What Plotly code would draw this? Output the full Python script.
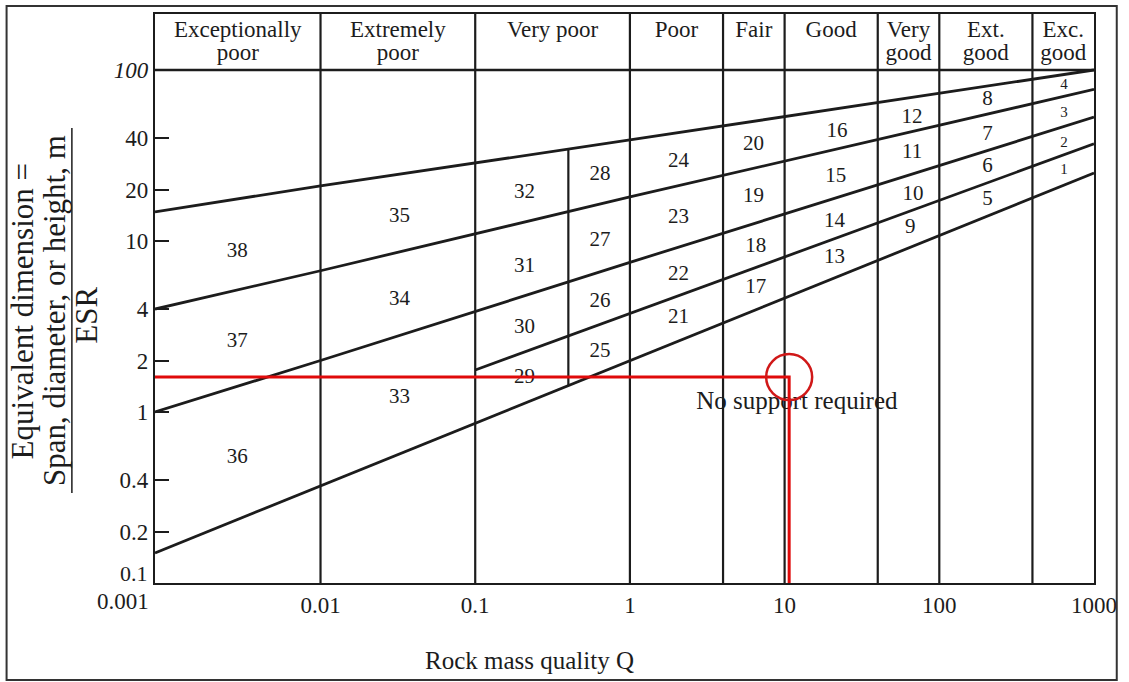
import numpy as np
import plotly.graph_objects as go

# ---------------- data ----------------
Q_MIN, Q_MAX = 10 ** -3.07, 1000.0          # axis extent of rock mass quality Q
DE_MIN, DE_MAX = 0.1, 100.0                 # equivalent dimension extent
HEADER_TOP = 10 ** 2.3275                   # top of the rock-class header band

# rock mass classes (header) and their Q boundaries
class_lines1 = ["Exceptionally", "Extremely", "Very poor", "Poor", "Fair", "Good", "Very", "Ext.", "Exc."]
class_lines2 = ["poor", "poor", "", "", "", "", "good", "good", "good"]
class_bounds = [Q_MIN, 0.01, 0.1, 1, 4, 10, 40, 100, 400, Q_MAX]

# support category boundary lines (Q, De)
line_A_q = [Q_MIN, 0.01, 1, 1000]
line_A_de = [14.8, 21.0, 39.0, 100.0]
line_B_q = [Q_MIN, 0.01, 1, 1000]
line_B_de = [4.0, 6.7, 18.1, 77.0]
line_C_q = [Q_MIN, 0.01, 1, 1000]
line_C_de = [1.0, 2.0, 7.5, 53.0]
line_D_q = [Q_MIN, 0.01, 1, 1000]
line_D_de = [0.15, 0.37, 2.0, 25.0]
line_E_q = [0.1, 1, 10, 1000]
line_E_de = [1.76, 3.77, 8.05, 37.0]

# partial divider inside "Very poor"
partial_q = [0.4, 0.4]
partial_de = [1.43, 34.4]

# support category numbers and where they sit (Q, De)
cat_ids = [38, 37, 36, 35, 34, 33, 32, 31, 30, 29, 28, 27, 26, 25, 24, 23, 22, 21, 20, 19,
           18, 17, 16, 15, 14, 13, 12, 11, 10, 9, 8, 7, 6, 5, 4, 3, 2, 1]
cat_q = [0.0029, 0.0029, 0.0029, 0.0324, 0.0324, 0.0324, 0.208, 0.208, 0.208, 0.208,
         0.641, 0.641, 0.641, 0.641, 2.06, 2.06, 2.06, 2.06, 6.3, 6.3, 6.5, 6.5,
         21.8, 21.4, 21.0, 21.0, 66.7, 66.7, 67.6, 64.9, 205, 205, 205, 205, 641, 641, 641, 641]
cat_de = [8.6, 2.57, 0.54, 13.8, 4.52, 1.21, 19.1, 7.05, 3.10, 1.58,
          24.3, 10.1, 4.40, 2.24, 29.0, 13.6, 6.32, 3.55, 36.4, 18.1, 9.2, 5.31,
          43.4, 23.7, 12.9, 7.96, 52.4, 32.7, 18.6, 11.9, 66.8, 41.7, 27.1, 17.4,
          81.7, 56.1, 37.4, 26.0]

# example design point (red)
red_q, red_de = 10.7, 1.6

y_ticks = [0.1, 0.2, 0.4, 1, 2, 4, 10, 20, 40, 100]
y_ticktext = ["", "0.2", "0.4", "1", "2", "4", "10", "20", "40", "<i>100</i>"]
x_ticks = [0.01, 0.1, 1, 10, 100, 1000]
x_ticktext = ["0.01", "0.1", "1", "10", "100", "1000"]

# ---------------- figure ----------------
FONT = "Liberation Serif"
INK = "#1c1c1c"
RED = "#e00a0a"

fig = go.Figure()

# vertical class boundaries through the header
vx, vy = [], []
for q in class_bounds[1:-1]:
    vx += [q, q, None]
    vy += [DE_MIN, HEADER_TOP, None]
fig.add_trace(go.Scatter(x=vx, y=vy, mode="lines", line=dict(color=INK, width=2.2),
                         hoverinfo="skip"))
# header separator at De = 100
fig.add_trace(go.Scatter(x=[Q_MIN, Q_MAX], y=[DE_MAX, DE_MAX], mode="lines",
                         line=dict(color=INK, width=2.4), hoverinfo="skip"))
# partial divider
fig.add_trace(go.Scatter(x=partial_q, y=partial_de, mode="lines",
                         line=dict(color=INK, width=2.2), hoverinfo="skip"))
# diagonal boundary lines
for qs, ds in [(line_A_q, line_A_de), (line_B_q, line_B_de), (line_C_q, line_C_de),
               (line_D_q, line_D_de), (line_E_q, line_E_de)]:
    fig.add_trace(go.Scatter(x=qs, y=ds, mode="lines",
                             line=dict(color=INK, width=2.8), hoverinfo="skip"))

# category numbers
sizes = [15 if i <= 4 else 21 for i in cat_ids]
fig.add_trace(go.Scatter(x=cat_q, y=cat_de, mode="text", text=[str(i) for i in cat_ids],
                         textposition="middle center",
                         textfont=dict(family=FONT, size=sizes, color=INK), hoverinfo="skip"))

# header labels
centers = [np.sqrt(class_bounds[i] * class_bounds[i + 1]) for i in range(len(class_lines1))]
row1 = 10 ** (2 + 0.696 * (np.log10(HEADER_TOP) - 2))
row2 = 10 ** (2 + 0.287 * (np.log10(HEADER_TOP) - 2))
fig.add_trace(go.Scatter(x=centers, y=[row1] * len(centers), mode="text", text=class_lines1,
                         textposition="middle center",
                         textfont=dict(family=FONT, size=23, color=INK), hoverinfo="skip"))
fig.add_trace(go.Scatter(x=centers, y=[row2] * len(centers), mode="text", text=class_lines2,
                         textposition="middle center",
                         textfont=dict(family=FONT, size=23, color=INK), hoverinfo="skip"))

# no support label
fig.add_trace(go.Scatter(x=[12.0], y=[1.14], mode="text", text=["No support required"],
                         textposition="middle center",
                         textfont=dict(family=FONT, size=25, color=INK), hoverinfo="skip"))

# red design point lines + circle
fig.add_trace(go.Scatter(x=[Q_MIN, red_q, red_q], y=[red_de, red_de, DE_MIN], mode="lines",
                         line=dict(color=RED, width=3), hoverinfo="skip"))
fig.add_trace(go.Scatter(x=[red_q], y=[red_de], mode="markers",
                         marker=dict(symbol="circle-open", size=46, color="#d01818",
                                     line=dict(width=2.5, color="#d01818")),
                         hoverinfo="skip"))

L, R, T, B = 155, 25, 14, 99
W, H = 1129, 682
pw, ph = W - L - R, H - T - B


def px_x(px):
    return (px - L) / pw


def px_y(py):
    return (H - B - py) / ph


fig.update_layout(
    width=W, height=H, showlegend=False,
    margin=dict(l=L, r=R, t=T, b=B),
    paper_bgcolor="white", plot_bgcolor="white",
    font=dict(family=FONT, color=INK),
    xaxis=dict(type="log", range=[np.log10(Q_MIN), np.log10(Q_MAX)],
               showline=True, mirror=True, linecolor=INK, linewidth=2.2,
               showgrid=False, zeroline=False, ticks="",
               tickvals=x_ticks, ticktext=x_ticktext,
               tickfont=dict(family=FONT, size=23, color=INK)),
    yaxis=dict(type="log", range=[np.log10(DE_MIN), np.log10(HEADER_TOP)],
               showline=True, mirror=True, linecolor=INK, linewidth=2.2,
               showgrid=False, zeroline=False, ticks="inside", ticklen=14,
               tickwidth=1.5, tickcolor=INK,
               tickvals=y_ticks, ticktext=y_ticktext,
               tickfont=dict(family=FONT, size=23, color=INK)),
    shapes=[
        dict(type="rect", xref="paper", yref="paper",
             x0=px_x(5), x1=px_x(1127), y0=px_y(680), y1=px_y(6),
             line=dict(color="#333333", width=2), fillcolor="rgba(0,0,0,0)"),
        # fraction bar of the y-axis title
        dict(type="line", xref="paper", yref="paper",
             x0=px_x(71), x1=px_x(71), y0=px_y(493), y1=px_y(128),
             line=dict(color=INK, width=1.5)),
    ],
    annotations=[
        dict(text="0.1", xref="paper", yref="paper", x=0, y=px_y(573),
             xanchor="right", yanchor="middle", xshift=-5, showarrow=False,
             font=dict(family=FONT, size=22, color=INK)),
        dict(text="0.001", xref="paper", yref="paper", x=0, y=px_y(601),
             xanchor="right", yanchor="middle", xshift=-4, showarrow=False,
             font=dict(family=FONT, size=23, color=INK)),
        dict(text="Rock mass quality Q", xref="paper", yref="paper",
             x=px_x(533), y=px_y(660), xanchor="center", yanchor="middle",
             showarrow=False, font=dict(family=FONT, size=25, color=INK)),
        dict(text="Equivalent dimension =", xref="paper", yref="paper",
             x=px_x(21), y=px_y(311), textangle=-90, showarrow=False,
             xanchor="center", yanchor="middle",
             font=dict(family=FONT, size=31, color=INK)),
        dict(text="Span, diameter, or height, m", xref="paper", yref="paper",
             x=px_x(53), y=px_y(311), textangle=-90, showarrow=False,
             xanchor="center", yanchor="middle",
             font=dict(family=FONT, size=31, color=INK)),
        dict(text="ESR", xref="paper", yref="paper",
             x=px_x(85), y=px_y(315), textangle=-90, showarrow=False,
             xanchor="center", yanchor="middle",
             font=dict(family=FONT, size=31, color=INK)),
    ],
)

fig.write_html("out.html", config={"displayModeBar": False},
               post_script="document.body.style.margin='0';document.body.style.padding='0';")
